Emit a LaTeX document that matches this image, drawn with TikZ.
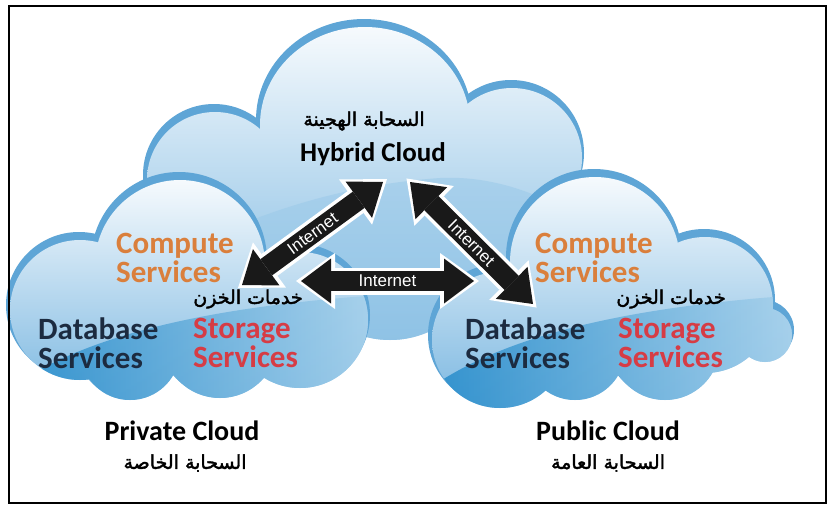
\documentclass[tikz,border=0pt]{standalone}
\usepackage{fontspec}
\setmainfont{Carlito}
\newfontfamily\arabicfont[Script=Arabic,FakeBold=2]{DejaVu Sans}
\newfontfamily\netfont{Liberation Sans}
\TeXXeTstate=1
\usetikzlibrary{arrows.meta,calc}

\definecolor{rim}{HTML}{5EA5D6}
\definecolor{cloudtop}{HTML}{F6FAFD}
\definecolor{cloudmid}{HTML}{D3E6F4}
\definecolor{cloudlow}{HTML}{7CB8E1}
\definecolor{deepblue}{HTML}{1F88C9}
\definecolor{wavelight}{HTML}{A9D2EC}
\definecolor{bandblue}{HTML}{9CCAE9}
\definecolor{orangetxt}{HTML}{DA7F3C}
\definecolor{redtxt}{HTML}{D63C45}
\definecolor{navytxt}{HTML}{1C2B40}

% lobes of the three clouds; #1 widens every lobe (used for the rim)
\newcommand\hybridlobes[1]{(365,125) ellipse [x radius=105+#1, y radius=98+#1]
  (215,180) circle [radius=68+#1] (512,158) circle [radius=70+#1]
  (390,245) circle [radius=95+#1] (290,232) circle [radius=80+#1]
  (480,232) circle [radius=80+#1]}
\newcommand\privlobes[1]{(180,265) circle [radius=85+#1]
  (80,310) circle [radius=70+#1] (300,320) circle [radius=68+#1]
  (130,350) circle [radius=50+#1] (220,340) circle [radius=58+#1]}
\newcommand\publobes[1]{(595,262) circle [radius=85+#1]
  (705,305) circle [radius=68+#1] (765,335) circle [radius=27+#1]
  (500,340) circle [radius=68+#1] (575,350) circle [radius=50+#1]
  (665,345) circle [radius=55+#1]}

\tikzset{
  rimfill/.style={fill=rim, shift={(-1,-5)}},
  cloudfill/.style={top color=cloudtop, middle color=cloudmid, bottom color=cloudlow},
  wavefill/.style={left color=deepblue, right color=wavelight, opacity=.85},
  netout/.style={white, line width=27pt, line cap=butt,
    {Triangle[length=39pt,width=56pt,line width=0pt]}-{Triangle[length=39pt,width=56pt,line width=0pt]},
    shorten <=-5pt, shorten >=-5pt},
  netin/.style={black!90, line width=20pt, line cap=butt,
    {Triangle[length=30pt,width=45pt,line width=0pt]}-{Triangle[length=30pt,width=45pt,line width=0pt]}},
  netlabel/.style={text=white, font=\netfont\fontsize{17}{17}\selectfont, inner sep=0pt},
  svc/.style={anchor=west, align=left, inner sep=0pt,
    font=\bfseries\fontsize{31}{29}\selectfont},
  title/.style={font=\bfseries\fontsize{28}{28}\selectfont, inner sep=0pt},
  artext/.style={font=\arabicfont\fontsize{19}{19}\selectfont, inner sep=0pt},
}

\begin{document}
\begin{tikzpicture}[x=1pt,y=-1pt]
\useasboundingbox (0,0) rectangle (835,506);
\fill[white] (0,0) rectangle (835,506);

% hybrid cloud (behind)
\fill[rimfill] \hybridlobes{3};
\shade[cloudfill] \hybridlobes{0};
\begin{scope}
  \clip \hybridlobes{0};
  \fill[bandblue, opacity=.6] (140,275) .. controls (240,215) and (340,185) .. (440,178)
    .. controls (500,175) and (560,200) .. (600,235) -- (600,350) -- (140,350) -- cycle;
\end{scope}

% private cloud
\fill[rimfill] \privlobes{3};
\shade[cloudfill] \privlobes{0};
\begin{scope}
  \clip \privlobes{0};
  \shade[wavefill] (0,395) .. controls (60,350) and (160,310) .. (380,295)
    -- (380,420) -- (0,420) -- cycle;
\end{scope}

% public cloud
\fill[rimfill] \publobes{3};
\shade[cloudfill] \publobes{0};
\begin{scope}
  \clip \publobes{0};
  \shade[wavefill] (420,395) .. controls (480,350) and (580,310) .. (800,295)
    -- (800,420) -- (420,420) -- cycle;
\end{scope}

% frame
\draw[line width=1.5pt] (9,6) rectangle (826,503);

% connector ends
\coordinate (hybL) at (383,182);
\coordinate (privT) at (242,285);
\coordinate (hybR) at (410,182);
\coordinate (pubT) at (533,304);
\coordinate (privR) at (301,281);
\coordinate (pubL) at (474,281);

% internet links
\draw[netout] (privT) -- (hybL);
\draw[netout] (hybR) -- (pubT);
\draw[netout] (privR) -- (pubL);
\draw[netin] (privT) -- (hybL) node[netlabel, midway, sloped] (lnkA) {Internet};
\draw[netin] (hybR) -- (pubT) node[netlabel, midway, sloped] (lnkB) {Internet};
\draw[netin] (privR) -- (pubL) node[netlabel, midway] (lnkC) {Internet};

% hybrid cloud labels
\node[artext] (hybAr) at (364,121) {\beginR السحابة الهجينة\endR};
\node[font=\bfseries\fontsize{27}{27}\selectfont, inner sep=0pt] (hybEn) at (373,154) {Hybrid Cloud};

% private cloud labels
\node[svc, text=orangetxt] (privCmp) at (116,258) {Compute\\Services};
\node[artext] (privAr) at (248,299) {\beginR خدمات الخزن\endR};
\node[svc, text=navytxt] (privDb) at (38,343) {Database\\Services};
\node[svc, text=redtxt] (privSt) at (193,343) {Storage\\Services};
\node[title] (privEn) at (182,431) {Private Cloud};
\node[artext] (privName) at (185,463) {\beginR السحابة الخاصة\endR};

% public cloud labels
\node[svc, text=orangetxt] (pubCmp) at (535,258) {Compute\\Services};
\node[artext] (pubAr) at (671,299) {\beginR خدمات الخزن\endR};
\node[svc, text=navytxt] (pubDb) at (465,343) {Database\\Services};
\node[svc, text=redtxt] (pubSt) at (618,343) {Storage\\Services};
\node[title] (pubEn) at (608,431) {Public Cloud};
\node[artext] (pubName) at (608,463) {\beginR السحابة العامة\endR};
\end{tikzpicture}
\end{document}
